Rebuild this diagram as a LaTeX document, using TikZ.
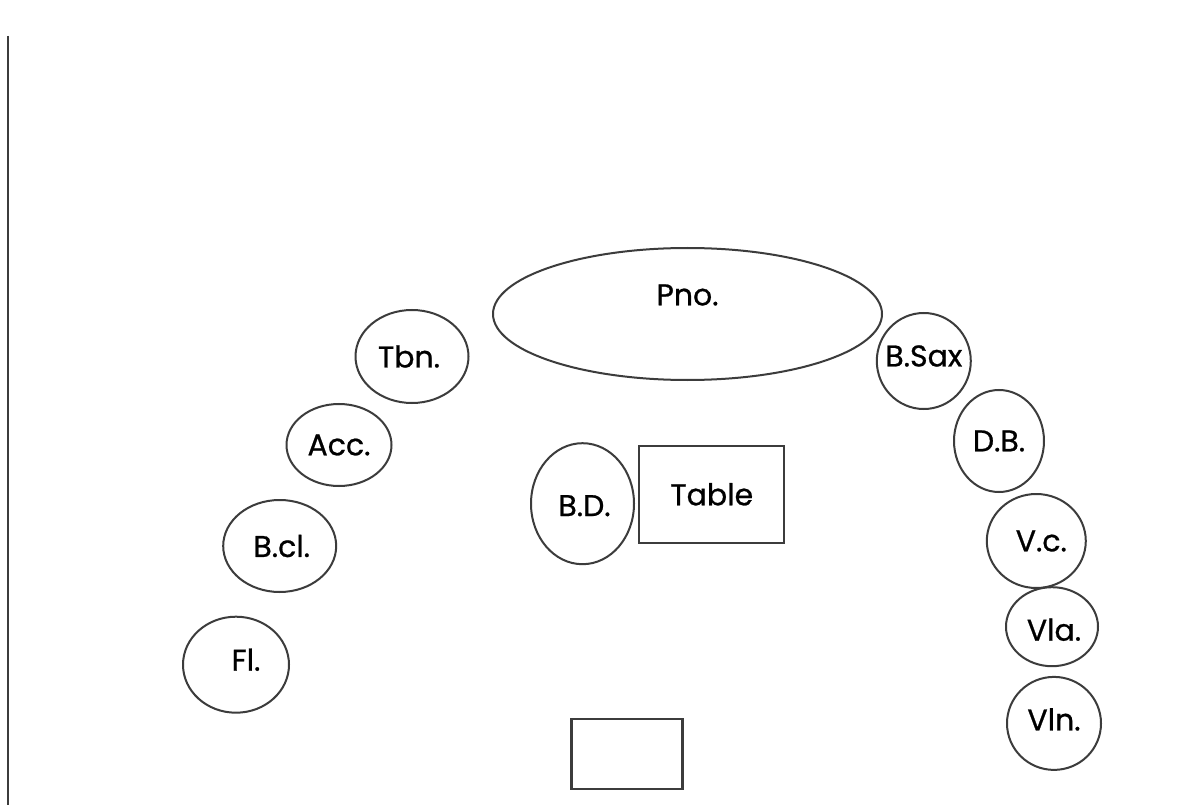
\documentclass[tikz,border=0pt]{standalone}
\usepackage{fontspec}
\setmainfont{Poppins}[FakeBold=0.8]
\usetikzlibrary{shapes.geometric}
\definecolor{linegray}{HTML}{3C3C3C}
\tikzstyle{player} = [draw=linegray, line width=2pt, ellipse, inner sep=0pt]
\tikzstyle{box} = [draw=linegray, line width=2.2pt, rectangle, inner sep=0pt]

\begin{document}
\begin{tikzpicture}[x = 1pt, y = -1pt, font = \fontsize{30}{36}\selectfont]
	\useasboundingbox (0, 0) rectangle (1187, 805) ;
	\fill[white] (0, 0) rectangle (1187, 805) ;
	
	% left wall
	\draw[linegray, line width=2.8pt] (8, 36) -- (8, 805) ;
	
	% piano
	\node[player, minimum width=389, minimum height=132, label={[yshift=19pt]center:Pno.}] (pno) at (687.5, 314) {} ;
	
	% left side
	\node[player, minimum width=113, minimum height=93, label={[xshift=-3pt]center:Tbn.}] (tbn) at (412, 356.5) {} ;
	\node[player, minimum width=105, minimum height=82, label={center:Acc.}] (acc) at (339, 445) {} ;
	\node[player, minimum width=113, minimum height=92, label={[xshift=2pt]center:B.cl.}] (bcl) at (279.7, 546) {} ;
	\node[player, minimum width=106, minimum height=96, label={[xshift=10pt, yshift=5pt]center:Fl.}] (fl) at (236, 664.7) {} ;
	
	% right side
	\node[player, minimum width=94, minimum height=96, label={[yshift=5pt]center:B.Sax}] (bsax) at (923.8, 361) {} ;
	\node[player, minimum width=90, minimum height=102, label={center:D.B.}] (db) at (999, 441) {} ;
	\node[player, minimum width=99, minimum height=94, label={[xshift=5pt]center:V.c.}] (vc) at (1036.3, 541) {} ;
	\node[player, minimum width=92, minimum height=79, label={[xshift=2pt, yshift=-3pt]center:Vla.}] (vla) at (1052, 626.7) {} ;
	\node[player, minimum width=94, minimum height=93, label={[yshift=4pt]center:Vln.}] (vln) at (1054, 723.4) {} ;
	
	% centre
	\node[player, minimum width=103, minimum height=121, label={[xshift=2pt, yshift=-2pt]center:B.D.}] (bd) at (582.5, 503.7) {} ;
	\node[box, minimum width=145, minimum height=97] (table) at (711.8, 494.3) {Table} ;
	\node[box, line width=2.6pt, minimum width=110.6, minimum height=70] (desk) at (627, 754) {} ;
	
\end{tikzpicture}
\end{document}
